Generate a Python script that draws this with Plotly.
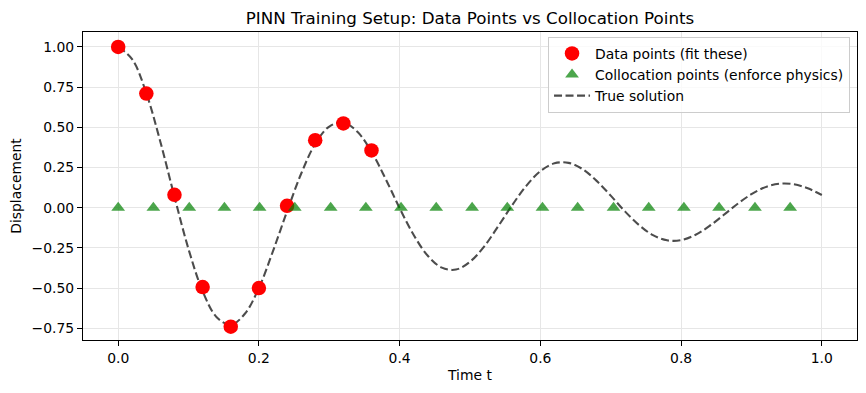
import plotly.graph_objects as go

# Data points (fit these)
t_data = [0.0, 0.04, 0.08, 0.12, 0.16, 0.20, 0.24, 0.28, 0.32, 0.36]
x_data = [1.0, 0.71, 0.08, -0.494, -0.74, -0.50, 0.012, 0.42, 0.524, 0.356]

# Collocation points (enforce physics)
t_colloc = [0.0, 0.050, 0.101, 0.151, 0.201, 0.251, 0.302, 0.352, 0.402, 0.452,
            0.503, 0.553, 0.603, 0.653, 0.704, 0.754, 0.804, 0.854, 0.905, 0.955]
x_colloc = [0.0] * len(t_colloc)

# True solution
t_true = [0.00, 0.02, 0.04, 0.06, 0.08, 0.10, 0.12, 0.14, 0.16, 0.18,
          0.20, 0.22, 0.24, 0.26, 0.28, 0.30, 0.32, 0.34, 0.36, 0.38,
          0.40, 0.42, 0.44, 0.46, 0.48, 0.50, 0.52, 0.54, 0.56, 0.58,
          0.60, 0.62, 0.64, 0.66, 0.68, 0.70, 0.72, 0.74, 0.76, 0.78,
          0.80, 0.82, 0.84, 0.86, 0.88, 0.90, 0.92, 0.94, 0.96, 0.98, 1.00]
x_true = [1.000, 0.923, 0.712, 0.409, 0.068, -0.258, -0.519, -0.681, -0.729, -0.660,
          -0.499, -0.270, -0.023, 0.211, 0.397, 0.505, 0.530, 0.472, 0.348, 0.180,
          -0.003, -0.170, -0.299, -0.373, -0.385, -0.336, -0.242, -0.116, 0.016, 0.136,
          0.227, 0.276, 0.279, 0.240, 0.167, 0.075, -0.022, -0.107, -0.171, -0.203,
          -0.202, -0.170, -0.115, -0.047, 0.023, 0.084, 0.128, 0.149, 0.146, 0.121, 0.079]

FONT = "DejaVu Sans"
FS = 13.9

fig = go.Figure()
fig.add_trace(go.Scatter(
    x=t_true, y=x_true, mode="lines", name="True solution",
    line=dict(color="rgba(0,0,0,0.7)", width=2.1, dash="8px,3.5px", shape="spline"),
    legendrank=3,
))
fig.add_trace(go.Scatter(
    x=t_data, y=x_data, mode="markers", name="Data points (fit these)",
    marker=dict(color="red", size=14.5, symbol="circle", line=dict(width=0)),
    legendrank=1,
))
fig.add_trace(go.Scatter(
    x=t_colloc, y=x_colloc, mode="markers", name="Collocation points (enforce physics)",
    marker=dict(color="rgba(0,128,0,0.7)", size=12, symbol="triangle-up",
                line=dict(width=0)),
    legendrank=2,
))

axis_common = dict(
    showline=True, linecolor="black", linewidth=1.1, mirror=True,
    ticks="outside", ticklen=5, tickcolor="black", tickwidth=1.1,
    showgrid=True, gridcolor="#e6e6e6", gridwidth=1, zeroline=False,
    tickfont=dict(family=FONT, size=FS, color="black"),
)

fig.update_layout(
    width=866, height=393,
    margin=dict(l=83, r=9, t=32, b=53),
    paper_bgcolor="white", plot_bgcolor="white",
    font=dict(family=FONT, size=FS, color="black"),
    title=dict(text="PINN Training Setup: Data Points vs Collocation Points",
               x=(83 + 857) / 2 / 866, xanchor="center", y=1 - 18 / 393, yanchor="middle",
               font=dict(family=FONT, size=16.7, color="black")),
    xaxis=dict(range=[-0.05, 1.05], tickvals=[0.0, 0.2, 0.4, 0.6, 0.8, 1.0],
               ticktext=["0.0", "0.2", "0.4", "0.6", "0.8", "1.0"],
               title=dict(text="Time t", standoff=5,
                          font=dict(family=FONT, size=FS)),
               **axis_common),
    yaxis=dict(range=[-0.823, 1.093],
               tickvals=[-0.75, -0.5, -0.25, 0.0, 0.25, 0.5, 0.75, 1.0],
               ticktext=["\u22120.75", "\u22120.50", "\u22120.25", "0.00", "0.25", "0.50", "0.75", "1.00"],
               title=dict(text="Displacement", standoff=6,
                          font=dict(family=FONT, size=FS)),
               **axis_common),
    legend=dict(x=0.991, xanchor="right", y=0.984, yanchor="top",
                bgcolor="rgba(255,255,255,0.8)", bordercolor="#cccccc", borderwidth=1,
                font=dict(family=FONT, size=FS, color="black"),
                tracegroupgap=0, itemsizing="trace", itemwidth=36),
    showlegend=True,
)

fig.write_html("out.html")
